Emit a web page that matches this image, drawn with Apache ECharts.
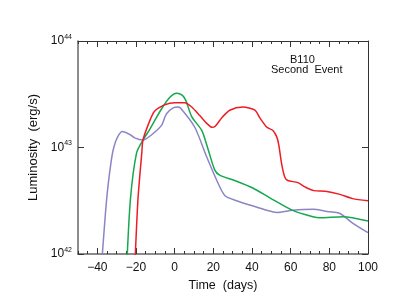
<!DOCTYPE html>
<html>
<head>
<meta charset="utf-8">
<script src="https://cdn.jsdelivr.net/npm/echarts@6/dist/echarts.min.js"></script>
<style>html,body{margin:0;padding:0;background:#fff}#c{width:399px;height:308px}</style>
</head>
<body>
<div id="c"></div>
<script>
// Data: time (days) and log10 luminosity (erg/s)
var redT   = [-20.8,-19.0,-17.0,-16.4,-12.9,-10.4,-5.2,0.0,5.2,8.8,13.0,17.0,19.2,21.0,24.4,28.5,35.2,41.5,44.0,47.7,50.8,52.8,53.8,55.4,57.0,58.5,63.7,67.4,72,78,85.5,92,100];
var redLog = [41.8,42.51,42.95,43.07,43.25,43.34,43.40,43.42,43.42,43.38,43.30,43.22,43.19,43.20,43.28,43.35,43.38,43.35,43.28,43.19,43.16,43.10,43.03,42.84,42.72,42.69,42.67,42.63,42.595,42.59,42.56,42.52,42.50];
var greenT   = [-25.0,-22.9,-19.7,-16.4,-12.9,-10.4,-6.2,-2.6,1.0,4.0,5.8,8.8,14.0,17.0,20.7,23.3,31,40.4,49,61,71.5,75,87,100];
var greenLog = [41.8,42.51,42.95,43.07,43.17,43.25,43.38,43.47,43.51,43.49,43.44,43.29,43.16,43.00,42.79,42.74,42.69,42.62,42.53,42.41,42.35,42.34,42.35,42.31];
var purpleT   = [-38.2,-35.2,-33.0,-31.5,-29.5,-27.0,-23.0,-20.7,-16.4,-11.9,-6.7,-5.2,-4.1,-1.0,1.6,3.0,10.4,16.6,21.8,25.9,32.0,38.9,47.7,52.8,61,71.5,78.8,85.5,92,100];
var purpleLog = [41.8,42.51,42.85,43.0,43.10,43.15,43.12,43.09,43.07,43.12,43.21,43.28,43.32,43.37,43.38,43.37,43.19,42.91,42.69,42.55,42.50,42.46,42.41,42.39,42.41,42.42,42.40,42.38,42.29,42.20];
var majorTicks = [-40,-20,0,20,40,60,80,100];

function pairs(t, l) { return t.map(function (x, i) { return [x, Math.pow(10, l[i])]; }); }

var font = 'Liberation Sans';
var chart = echarts.init(document.getElementById('c'), null, {renderer: 'canvas'});
var xBase = {type: 'value', min: -50, max: 100, gridIndex: 0, splitLine: {show: false}};
var lineC = '#333';
chart.setOption({
  animation: false,
  backgroundColor: '#fff',
  grid: {left: 78, right: 31, top: 41, bottom: 54},
  xAxis: [
    Object.assign({}, xBase, {position: 'bottom', interval: 5,
      axisLine: {show: true, onZero: false, lineStyle: {color: '#666', width: 1.5}},
      axisTick: {show: true, inside: true, length: 3, lineStyle: {color: lineC}},
      axisLabel: {show: false}}),
    Object.assign({}, xBase, {position: 'bottom',
      axisLine: {show: false, onZero: false},
      axisTick: {show: true, inside: true, length: 6, customValues: majorTicks, lineStyle: {color: lineC}},
      axisLabel: {show: true, customValues: majorTicks, margin: 8, color: '#111', fontFamily: font, fontSize: 12,
        formatter: function (v) { return v < 0 ? '\u2212' + (-v) : String(v); }},
      name: 'Time  (days)', nameLocation: 'middle', nameGap: 23,
      nameTextStyle: {color: '#111', fontFamily: font, fontSize: 12.5}}),
    Object.assign({}, xBase, {position: 'top', interval: 5,
      axisLine: {show: true, onZero: false, lineStyle: {color: lineC, width: 1}},
      axisTick: {show: true, inside: true, length: 3, lineStyle: {color: lineC}},
      axisLabel: {show: false}}),
    Object.assign({}, xBase, {position: 'top',
      axisLine: {show: false, onZero: false},
      axisTick: {show: true, inside: true, length: 6, customValues: majorTicks, lineStyle: {color: lineC}},
      axisLabel: {show: false}})
  ],
  yAxis: [
    {type: 'log', logBase: 10, min: 1e42, max: 1e44, position: 'left',
      splitLine: {show: false},
      axisLine: {show: true, onZero: false, lineStyle: {color: '#666', width: 1.5}},
      axisTick: {show: true, inside: true, length: 6, lineStyle: {color: lineC}},
      minorTick: {show: false},
      axisLabel: {show: true, margin: 6, fontFamily: font, color: '#111',
        formatter: function (v) { return '{b|10}{s|' + Math.round(Math.log10(v)) + '}'; },
        rich: {b: {fontSize: 12, fontFamily: font, color: '#111'},
               s: {fontSize: 7, fontFamily: font, color: '#111', verticalAlign: 'top', padding: [0, 0, 8, 0]}}},
      name: 'Luminosity  (erg/s)', nameLocation: 'middle', nameGap: 36, nameRotate: 90,
      nameTextStyle: {color: '#111', fontFamily: font, fontSize: 13}},
    {type: 'log', logBase: 10, min: 1e42, max: 1e44, position: 'right',
      splitLine: {show: false},
      axisLine: {show: true, onZero: false, lineStyle: {color: lineC, width: 1}},
      axisTick: {show: true, inside: true, length: 6, lineStyle: {color: lineC}},
      axisLabel: {show: false}}
  ],
  graphic: [
    {type: 'text', left: 290, top: 54, style: {text: 'B110', fontFamily: font, fontSize: 11, fill: '#111'}},
    {type: 'text', left: 271, top: 64, style: {text: 'Second  Event', fontFamily: font, fontSize: 11, fill: '#111'}}
  ],
  series: [
    {type: 'line', name: 'purple', xAxisIndex: 0, yAxisIndex: 0, data: pairs(purpleT, purpleLog), showSymbol: false,
      smooth: 0.25, clip: true, lineStyle: {color: '#8a86c6', width: 1.5}},
    {type: 'line', name: 'green', xAxisIndex: 0, yAxisIndex: 0, data: pairs(greenT, greenLog), showSymbol: false,
      smooth: 0.25, clip: true, lineStyle: {color: '#15a84e', width: 1.5}},
    {type: 'line', name: 'red', xAxisIndex: 0, yAxisIndex: 0, data: pairs(redT, redLog), showSymbol: false,
      smooth: 0.25, clip: true, lineStyle: {color: '#ee1c25', width: 1.5}}
  ]
});
</script>
</body>
</html>
